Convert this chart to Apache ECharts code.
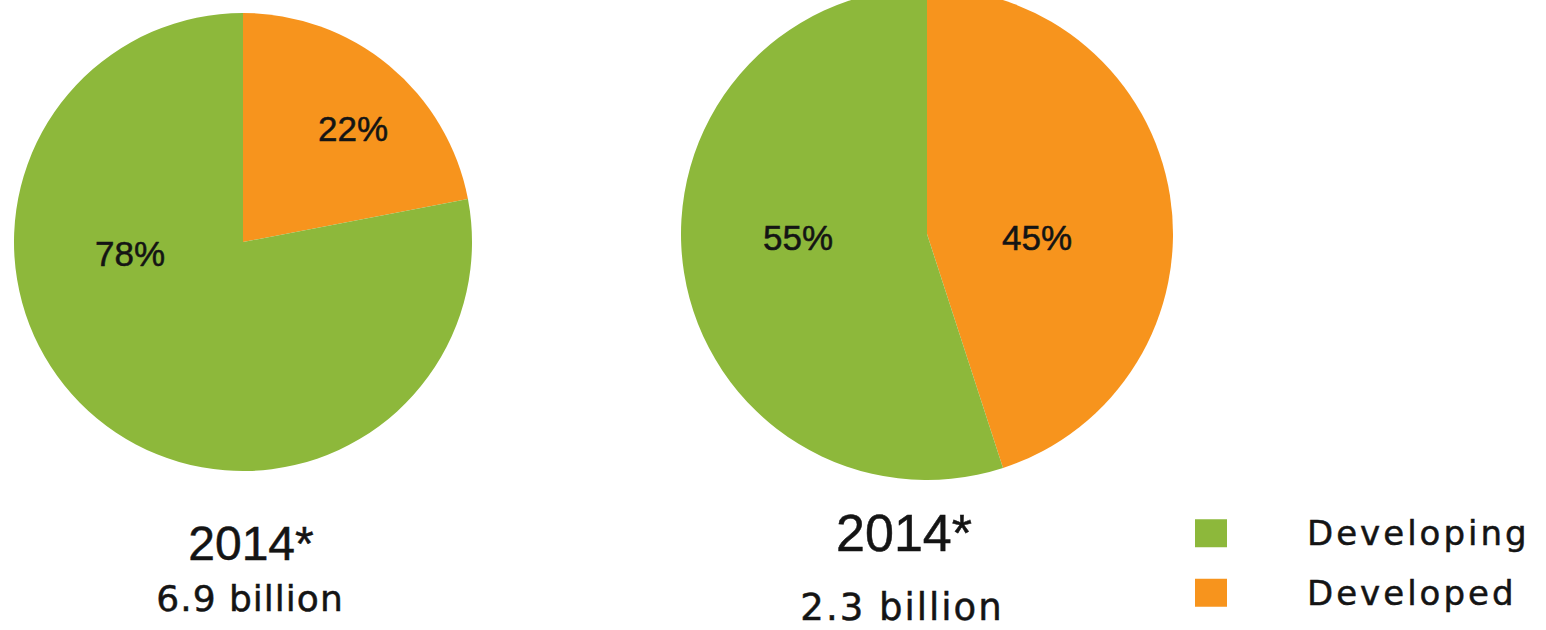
<!DOCTYPE html>
<html>
<head>
<meta charset="utf-8">
<script src="https://cdn.jsdelivr.net/npm/echarts@6/dist/echarts.min.js"></script>
<style>
  html, body { margin: 0; padding: 0; background: #fff; }
  #chart { width: 1546px; height: 630px; }
  /* the original type is widely spaced, svg text takes css letter-spacing */
  #chart text[style*="34px"] { letter-spacing: 3px; }
  #chart text[style*="36px"] { letter-spacing: 1px; }
  #chart text[style*="37px"] { letter-spacing: 2px; }
</style>
</head>
<body>
<div id="chart"></div>
<script>
// data
const categories = ['Developed', 'Developing'];
const legendOrder = ['Developing', 'Developed'];
const shares2014Population = [22, 78];
const shares2014Second = [45, 55];
const yearLabels = ['2014*', '2014*'];
const totalLabels = ['6.9 billion', '2.3 billion'];

const colors = { Developing: '#8db83b', Developed: '#f7941d' };
const ink = '#141414';

// label anchors, offset from each pie centre
const labelOffsets = [
    [[110, -114], [-113, 11]],
    [[110, 3], [-129, 3]]
];
const centers = [[243, 242], [927, 234]];
const radii = [229, 246];

function pieData(values) {
    return categories.map((name, i) => ({
        name: name,
        value: values[i],
        itemStyle: { color: colors[name] }
    }));
}

function pieSeries(idx, values) {
    return {
        type: 'pie',
        center: centers[idx],
        radius: radii[idx],
        startAngle: 90,
        clockwise: true,
        animation: false,
        silent: true,
        data: pieData(values),
        label: {
            show: true,
            position: 'inside',
            formatter: '{c}%',
            fontFamily: 'Liberation Sans',
            fontSize: 35,
            color: ink,
            textBorderColor: ink,
            textBorderWidth: 0.5
        },
        labelLine: { show: false },
        labelLayout: function (params) {
            const off = labelOffsets[idx][params.dataIndex];
            return { x: centers[idx][0] + off[0], y: centers[idx][1] + off[1] };
        },
        emphasis: { disabled: true }
    };
}

function textStyle(family, size) {
    return {
        fontFamily: family, fontSize: size, fontWeight: 'normal',
        color: ink, textBorderColor: ink, textBorderWidth: 0.5
    };
}

var myChart = echarts.init(document.getElementById('chart'), null, { renderer: 'svg' });

var option = {
    backgroundColor: '#fff',
    animation: false,
    title: [
        { text: yearLabels[0], left: 251, top: 519, textAlign: 'center', padding: 0,
          textStyle: textStyle('Liberation Sans', 48) },
        { text: totalLabels[0], left: 250, top: 580, textAlign: 'center', padding: 0,
          textStyle: textStyle('DejaVu Sans', 36) },
        { text: yearLabels[1], left: 904, top: 507, textAlign: 'center', padding: 0,
          textStyle: textStyle('Liberation Sans', 52) },
        { text: totalLabels[1], left: 902, top: 589, textAlign: 'center', padding: 0,
          textStyle: textStyle('DejaVu Sans', 37) }
    ],
    legend: {
        data: legendOrder,
        orient: 'vertical',
        left: 1195,
        top: 516,
        padding: 0,
        icon: 'rect',
        itemWidth: 32,
        itemHeight: 28,
        itemGap: 25,
        selectedMode: false,
        textStyle: Object.assign(textStyle('DejaVu Sans', 34), { padding: [0, 0, 0, 75] })
    },
    series: [
        pieSeries(0, shares2014Population),
        pieSeries(1, shares2014Second)
    ]
};
myChart.setOption(option);
</script>
</body>
</html>
